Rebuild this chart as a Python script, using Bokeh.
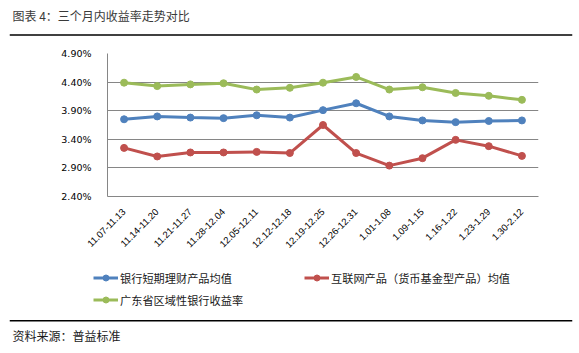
from bokeh.plotting import figure
from bokeh.layouts import column
from bokeh.models import (FactorRange, FixedTicker, PrintfTickFormatter, Legend, LegendItem,
                          Label, Span, Range1d)
from bokeh.embed import file_html
from bokeh.resources import INLINE
import math

categories = ["11.07-11.13", "11.14-11.20", "11.21-11.27", "11.28-12.04", "12.05-12.11",
              "12.12-12.18", "12.19-12.25", "12.26-12.31", "1.01-1.08", "1.09-1.15",
              "1.16-1.22", "1.23-1.29", "1.30-2.12"]
bank_short = [3.75, 3.80, 3.78, 3.77, 3.82, 3.78, 3.91, 4.03, 3.80, 3.73, 3.70, 3.72, 3.73]
internet_mmf = [3.25, 3.10, 3.17, 3.17, 3.18, 3.16, 3.65, 3.16, 2.94, 3.07, 3.39, 3.28, 3.11]
guangdong = [4.39, 4.33, 4.36, 4.38, 4.27, 4.30, 4.39, 4.49, 4.27, 4.31, 4.21, 4.16, 4.09]
y_ticks = [2.4, 2.9, 3.4, 3.9, 4.4, 4.9]
series_names = ["银行短期理财产品均值", "互联网产品（货币基金型产品）均值", "广东省区域性银行收益率"]
colors = ["#4f81bd", "#c0504d", "#9bbb59"]
title_text = "图表 4：三个月内收益率走势对比"
source_text = "资料来源：普益标准"

CJK = "Noto Sans CJK SC"
W = 579
NAN = float("nan")


def blank(height, left, right):
    f = figure(width=W, height=height, x_range=Range1d(0, 1), y_range=Range1d(0, height),
               x_axis_type=None, y_axis_type=None, output_backend="svg", toolbar_location=None,
               min_border_left=left, min_border_right=right, min_border_top=0, min_border_bottom=0,
               frame_align=False)
    f.outline_line_color = None
    f.grid.visible = False
    return f


# header: title + rule
H1 = 40
header = blank(H1, 9, 7)
header.add_layout(Label(x=3, y=H1 - 15, x_units="screen", y_units="screen", text=title_text,
                        text_font=CJK, text_font_size="12px", text_color="#3a3a3a",
                        text_baseline="middle"))
header.add_layout(Span(location=H1 - 34.5, dimension="width", line_color="black", line_width=1.5))

# main chart
H2 = 222
p = figure(width=W, height=H2, x_range=FactorRange(*categories, range_padding=0),
           y_range=Range1d(2.4, 4.9), output_backend="svg", toolbar_location=None,
           min_border_left=107, min_border_right=41, min_border_top=13, min_border_bottom=66,
           frame_align=False)
p.outline_line_color = None
p.xgrid.grid_line_color = None
p.ygrid.grid_line_color = "#868686"
p.ygrid.ticker = FixedTicker(ticks=y_ticks)

p.yaxis.ticker = FixedTicker(ticks=y_ticks)
p.yaxis.formatter = PrintfTickFormatter(format="%.2f%%")
p.yaxis.axis_line_color = "#868686"
p.yaxis.major_tick_line_color = None
p.yaxis.minor_tick_line_color = None
p.yaxis.major_label_text_font = "DejaVu Sans"
p.yaxis.major_label_text_font_size = "9.5px"
p.yaxis.major_label_text_color = "#000000"
p.yaxis.major_label_standoff = 10

p.xaxis.axis_line_color = "#868686"
p.xaxis.major_tick_line_color = None
p.xaxis.minor_tick_line_color = None
p.xaxis.major_label_orientation = math.pi / 4
p.xaxis.major_label_text_font = "Liberation Sans"
p.xaxis.major_label_text_font_size = "9.5px"
p.xaxis.major_label_text_color = "#000000"
p.xaxis.major_label_standoff = 8

for vals, c in zip([bank_short, internet_mmf, guangdong], colors):
    p.line(categories, vals, line_color=c, line_width=3)
    p.scatter(categories, vals, size=7, fill_color=c, line_color=c)

# legend + source
H3 = 353 - H1 - H2
FL = 9
foot = blank(H3, FL, 7)
items = {}
for name, c in zip(series_names, colors):
    l = foot.line([NAN, NAN], [NAN, NAN], line_color=c, line_width=3)
    s = foot.scatter([NAN], [NAN], size=7, fill_color=c, line_color=c)
    items[name] = LegendItem(label=name, renderers=[l, s])
# column-major fill: column 1 = first and third series, column 2 = second series
order = [series_names[0], series_names[2], series_names[1]]
legend = Legend(items=[items[n] for n in order], location=(93 - FL, H3 - 9.5 - 36), ncols=2,
                glyph_width=25, glyph_height=15, label_standoff=2, label_width=178, spacing=6,
                padding=0, margin=0, label_text_font=CJK, label_text_font_size="11.2px",
                label_text_color="#1a1a1a", label_height=15, border_line_color=None,
                background_fill_alpha=0)
foot.add_layout(legend)
foot.add_layout(Span(location=H3 - (320.3 - H1 - H2), dimension="width", line_color="black",
                     line_width=1.5))
foot.add_layout(Label(x=12 - FL, y=H3 - (335 - H1 - H2), x_units="screen", y_units="screen",
                      text=source_text, text_font=CJK, text_font_size="12px",
                      text_color="#1a1a1a", text_baseline="middle"))

layout = column(header, p, foot, spacing=0)
open("out.html", "w").write(file_html(layout, INLINE))
